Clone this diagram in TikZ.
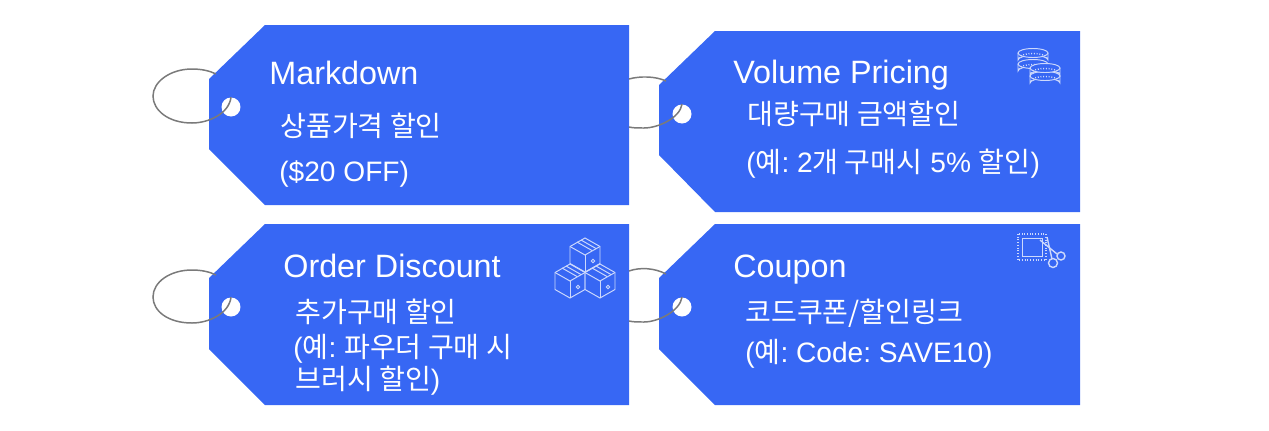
\documentclass[tikz,border=0pt]{standalone}
\usepackage{fontspec}
\setmainfont{Liberation Sans}
\newfontfamily\kr{Noto Sans CJK KR}
\definecolor{tagblue}{HTML}{3767F4}
\definecolor{ringgray}{HTML}{7A7A7A}

\begin{document}
\frenchspacing
\begin{tikzpicture}[x=0.02cm, y=-0.02cm]
% Styles
\tikzstyle{tag} = [fill=tagblue]
\tikzstyle{hole} = [circle, fill=white, minimum size=0.38cm, inner sep=0pt]
\tikzstyle{ring} = [draw=ringgray, line width=0.85pt]
\tikzstyle{title} = [anchor=base west, text=white, inner sep=0pt, font=\fontsize{18.4}{20}\selectfont]
\tikzstyle{body} = [anchor=base west, text=white, inner sep=0pt, font=\fontsize{16}{18}\selectfont]
\tikzstyle{icon} = [draw=white!75!tagblue, line width=0.55pt]

\useasboundingbox (0,0) rectangle (1269,430);

% Tags
\fill [tag] (265,25) -- (629,25) -- (629,205) -- (265,205) -- (209,149) -- (209,79) -- cycle;
\fill [tag] (715,31) -- (1080,31) -- (1080,212) -- (715,212) -- (659,155) -- (659,85) -- cycle;
\fill [tag] (265,224) -- (629,224) -- (629,405) -- (265,405) -- (209,349) -- (209,278) -- cycle;
\fill [tag] (715,224) -- (1080,224) -- (1080,405) -- (715,405) -- (659,349) -- (659,278) -- cycle;

\node (mark_hole) [hole] at (231,107) {};
\node (volume_hole) [hole] at (682,114) {};
\node (order_hole) [hole] at (231,307) {};
\node (coupon_hole) [hole] at (682,307) {};

% Rings
\draw [ring] (mark_hole.north) .. controls (229,114) and (208,123) .. (192,123) .. controls (168,123) and (153,110) .. (153,96) .. controls (153,82) and (170,69) .. (192,69) .. controls (202,69) and (210,71) .. (216,74);
\draw [ring] (volume_hole.north) .. controls (680,118) and (658,128) .. (644,128) .. controls (638,128) and (633,128) .. (629,127);
\draw [ring] (629,79) .. controls (640,76) and (655,76) .. (666,81);
\draw [ring] (order_hole.north) .. controls (229,314) and (208,323) .. (192,323) .. controls (168,323) and (153,311) .. (153,297) .. controls (153,282) and (170,270) .. (192,270) .. controls (202,270) and (210,272) .. (216,275);
\draw [ring] (coupon_hole.north) .. controls (680,311) and (658,322) .. (644,322) .. controls (638,322) and (633,322) .. (629,321);
\draw [ring] (629,271) .. controls (640,267) and (655,268) .. (666,274);

% Texts
\node (mark_title) [title] at (269,84) {Markdown};
\node (mark_kind) [body] at (280,136) {\kr 상품가격 할인};
\node (mark_note) [body] at (279,181) {(\$20 OFF)};

\node (volume_title) [title] at (733,83) {Volume Pricing};
\node (volume_kind) [body] at (747,124) {\kr 대량구매 금액할인};
\node (volume_note) [body] at (746,172) {({\kr 예}: 2{\kr 개 구매시} 5\% {\kr 할인})};

\node (order_title) [title] at (283,277) {Order Discount};
\node (order_kind) [body] at (295,322) {\kr 추가구매 할인};
\node (order_note) [body] at (293,357) {({\kr 예}: {\kr 파우더 구매 시}};
\node (order_more) [body] at (295,389) {{\kr 브러시 할인})};

\node (coupon_title) [title] at (733,277) {Coupon};
\node (coupon_kind) [body] at (745,322) {\kr 코드쿠폰/할인링크};
\node (coupon_note) [body] at (745,362) {({\kr 예}: Code: SAVE10)};

% Coins
\foreach \cx/\cy in {1033/64, 1033/53, 1045/76, 1045/68} {
  \draw [icon, fill=tagblue] (\cx-15,\cy) -- (\cx-15,\cy+7) arc (180:360:15 and 4.5) -- (\cx+15,\cy);
  \draw [icon, fill=tagblue] (\cx,\cy) ellipse (15 and 4.5);
  \draw [icon, densely dotted, line width=0.8pt] (\cx-14,\cy+5) arc (180:360:14 and 4.5);
}

% Boxes
\foreach \cx/\cy in {585/255, 570/281, 600/281} {
  \draw [icon] (\cx,\cy-17) -- (\cx+15,\cy-8.5) -- (\cx+15,\cy+8.5) -- (\cx,\cy+17) -- (\cx-15,\cy+8.5) -- (\cx-15,\cy-8.5) -- cycle;
  \draw [icon] (\cx-15,\cy-8.5) -- (\cx,\cy) -- (\cx+15,\cy-8.5);
  \draw [icon] (\cx,\cy) -- (\cx,\cy+17);
  \draw [icon] (\cx-8,\cy-13) -- (\cx+7,\cy-4.5);
  \draw [icon] (\cx-4,\cy-15) -- (\cx+11,\cy-6.5);
  \draw [icon] (\cx+8,\cy+6) circle (1.8);
}

% Coupon
\draw [icon, densely dotted, line width=1.2pt] (1018,234) rectangle (1046,260);
\draw [icon] (1022,238) rectangle (1042,256);
\draw [icon, line width=0.8pt] (1040,240) -- (1057,254);
\draw [icon, line width=0.8pt] (1047,237) -- (1052,259);
\draw [icon, line width=0.8pt] (1061,256) circle (4);
\draw [icon, line width=0.8pt] (1053,263) circle (4.5);
\end{tikzpicture}
\end{document}
